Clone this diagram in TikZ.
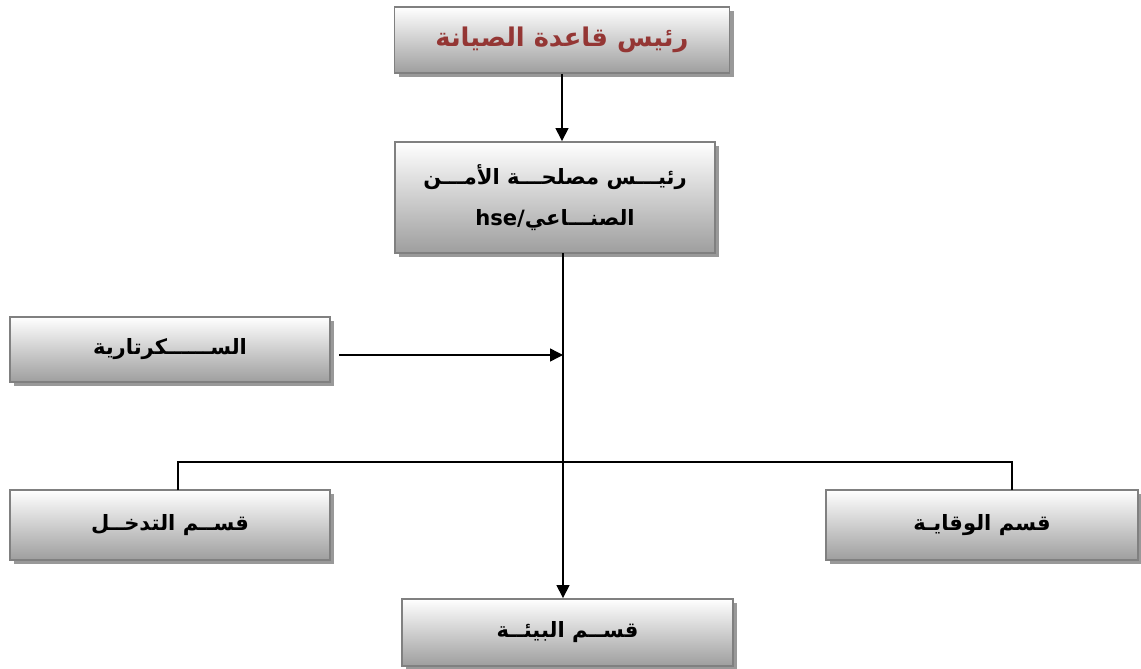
\documentclass[tikz,border=0pt]{standalone}
\usepackage{fontspec}
\newfontfamily\arabicfont[Script=Arabic]{DejaVu Sans}
\TeXXeTstate=1
\usetikzlibrary{shadows,arrows.meta}
\definecolor{headred}{HTML}{943634}
\begin{document}
\begin{tikzpicture}[x=0.03cm, y=-0.03cm, line width=1.2pt,
  box/.style = {draw=black!50, line width=1.6pt, top color=white, bottom color=black!38,
    drop shadow={fill=black!40, opacity=1, shadow xshift=3.5pt, shadow yshift=-3.5pt},
    inner sep=0pt, align=center, font=\arabicfont\bfseries\fontsize{18}{35}\selectfont},
  tip/.style = {-{Triangle[length=11pt,width=11pt]}}]
\useasboundingbox (0,0) rectangle (1141,669);
\node[box, minimum width=10.05cm, minimum height=1.98cm, text=headred,
  font=\arabicfont\bfseries\fontsize{22}{26}\selectfont] (head) at (562,40) {\beginR رئيس قاعدة الصيانة\endR};
\node[box, minimum width=9.6cm, minimum height=3.33cm] (hse) at (555,197.5)
  {\beginR رئيـــس مصلحـــة الأمـــن\endR\\\beginR الصنـــاعي/\beginL hse\endL\endR};
\node[box, minimum width=9.6cm, minimum height=1.95cm] (sec) at (170,349.5) {\beginR الســــــكرتارية\endR};
\node[box, minimum width=9.6cm, minimum height=2.1cm] (int) at (170,525) {\beginR قســم التدخــل\endR};
\node[box, minimum width=9.36cm, minimum height=2.1cm] (prev) at (982,525) {\beginR قسم الوقايـة\endR};
\node[box, minimum width=9.93cm, minimum height=2.01cm] (env) at (567.5,632.5) {\beginR قســم البيئــة\endR};
% connectors
\coordinate (top) at (563,253);
\coordinate (join) at (563,355);
\coordinate (bus) at (563,462);
\draw[tip] (head.south) -- (head.south |- hse.north);
\draw[tip] (top) -- (top |- env.north);
\draw[tip] ([xshift=0.24cm]sec.east |- join) -- (join);
\draw (178,490) |- (bus) -| (1012,490);
\end{tikzpicture}
\end{document}
